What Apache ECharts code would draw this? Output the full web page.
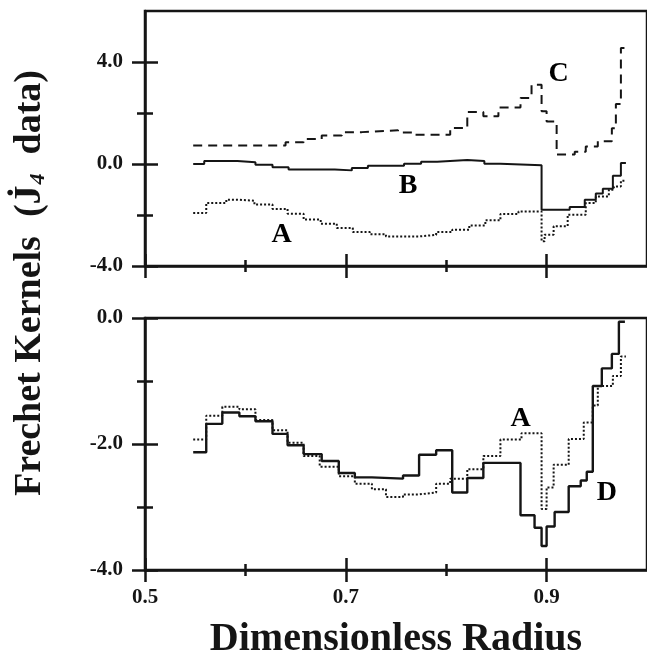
<!DOCTYPE html>
<html><head><meta charset="utf-8">
<script src="https://cdn.jsdelivr.net/npm/echarts@6/dist/echarts.min.js"></script>
<style>html,body{margin:0;padding:0;background:#fff}#c{width:647px;height:661px}</style>
</head><body><div id="c"></div>
<script>
// ---- tick / label values ----
const xTicksMajor = [0.5, 0.7, 0.9];
const xTicksMinor = [0.6, 0.8];
const xLabelValues = [0.5, 0.7, 0.9];
const topYMajor = [-4, 0, 4];
const topYMinor = [-2, 2];
const botYMajor = [-4, -2, 0];
const botYMinor = [-3, -1];

// ---- data: [radius at step start, kernel value]; last point closes the final step ----
const topA = [
  [0.548,-1.92],[0.561,-1.53],[0.581,-1.40],[0.592,-1.44],[0.609,-1.59],[0.627,-1.76],
  [0.642,-1.95],[0.658,-2.18],[0.675,-2.34],[0.691,-2.51],[0.707,-2.67],[0.724,-2.75],
  [0.740,-2.84],[0.773,-2.78],[0.790,-2.67],[0.806,-2.58],[0.823,-2.41],[0.839,-2.21],
  [0.854,-1.96],[0.872,-1.86],[0.895,-3.03],[0.898,-2.77],[0.907,-2.44],[0.921,-1.99],
  [0.939,-1.53],[0.949,-1.27],[0.962,-1.01],[0.967,-0.88],[0.974,-0.66],[0.979,-0.66]
];
const topB = [
  [0.548,0.00],[0.559,0.12],[0.592,0.07],[0.610,-0.03],[0.627,-0.13],[0.643,-0.22],
  [0.689,-0.25],[0.706,-0.16],[0.722,-0.07],[0.758,0.01],[0.775,0.09],[0.791,0.16],
  [0.821,0.12],[0.838,0.01],[0.854,-0.05],[0.895,-1.79],[0.923,-1.69],[0.938,-1.40],
  [0.949,-1.16],[0.956,-0.97],[0.966,-0.46],[0.974,0.04],[0.979,0.04]
];
const topC = [
  [0.548,0.73],[0.640,0.85],[0.658,0.98],[0.676,1.12],[0.696,1.25],[0.716,1.32],
  [0.752,1.24],[0.768,1.15],[0.804,1.41],[0.821,2.04],[0.837,1.87],[0.852,2.22],
  [0.874,2.59],[0.885,3.11],[0.895,2.07],[0.900,1.67],[0.910,0.37],[0.928,0.48],
  [0.939,0.69],[0.951,0.89],[0.965,1.40],[0.969,2.35],[0.974,4.55],[0.979,4.55]
];
const botA = [
  [0.548,-1.93],[0.561,-1.55],[0.577,-1.41],[0.594,-1.45],[0.610,-1.62],[0.627,-1.78],
  [0.642,-1.98],[0.658,-2.19],[0.674,-2.36],[0.693,-2.51],[0.709,-2.63],[0.726,-2.72],
  [0.740,-2.84],[0.757,-2.80],[0.773,-2.77],[0.790,-2.63],[0.804,-2.55],[0.821,-2.40],
  [0.837,-2.19],[0.854,-1.93],[0.875,-1.83],[0.895,-3.03],[0.900,-2.69],[0.907,-2.33],
  [0.922,-1.92],[0.937,-1.66],[0.946,-1.39],[0.951,-1.08],[0.966,-0.92],[0.974,-0.61],[0.979,-0.61]
];
const botD = [
  [0.548,-2.13],[0.561,-1.68],[0.577,-1.50],[0.594,-1.56],[0.610,-1.64],[0.627,-1.84],
  [0.642,-2.02],[0.658,-2.16],[0.676,-2.27],[0.693,-2.46],[0.709,-2.53],[0.726,-2.55],
  [0.757,-2.50],[0.773,-2.17],[0.790,-2.10],[0.806,-2.77],[0.821,-2.54],[0.837,-2.30],
  [0.874,-3.13],[0.888,-3.33],[0.895,-3.62],[0.900,-3.31],[0.908,-3.08],[0.922,-2.67],
  [0.934,-2.58],[0.940,-2.44],[0.946,-1.08],[0.955,-0.80],[0.965,-0.57],[0.972,-0.06],[0.978,-0.06]
];
const topNotes = [ {text:'C', x:0.912, y:3.55}, {text:'B', x:0.762, y:-0.85}, {text:'A', x:0.636, y:-2.78} ];
const botNotes = [ {text:'A', x:0.874, y:-1.60}, {text:'D', x:0.960, y:-2.78} ];

const INK = '#151515';
const SERIF = '"Liberation Serif","Times New Roman",serif';

function xAxes(gridIndex, withLabels) {
  const base = {type:'value', gridIndex, min:0.5, max:1.0, position:'bottom',
    splitLine:{show:false}, axisLabel:{show:false}, axisLine:{show:false, onZero:false}};
  const tick = (vals, inside, len) => ({show:true, inside, length:len, customValues:vals,
    lineStyle:{color:INK, width:2.5}});
  const main = Object.assign({}, base, {
    axisLine:{show:true, onZero:false, lineStyle:{color:INK, width:2.5}},
    axisTick: tick(xTicksMajor, true, 12),
    axisLabel: withLabels ? {show:true, customValues:xLabelValues, margin:17,
      formatter:v=>Number(v).toFixed(1), fontFamily:SERIF, fontWeight:'bold', fontSize:21, color:INK} : {show:false}
  });
  if (withLabels) {
    main.name = 'Dimensionless Radius';
    main.nameLocation = 'middle';
    main.nameGap = 50;
    main.nameTextStyle = {fontFamily:SERIF, fontWeight:'bold', fontSize:40, color:INK};
  }
  return [main,
    Object.assign({}, base, {axisTick: tick(xTicksMajor, false, 12)}),
    Object.assign({}, base, {axisTick: tick(xTicksMinor, true, 6)}),
    Object.assign({}, base, {axisTick: tick(xTicksMinor, false, 6)})];
}
function yAxes(gridIndex, min, max, major, minor) {
  const base = {type:'value', gridIndex, min, max, position:'left',
    splitLine:{show:false}, axisLabel:{show:false}, axisLine:{show:false, onZero:false}};
  const tick = (vals, inside, len) => ({show:true, inside, length:len, customValues:vals,
    lineStyle:{color:INK, width:2.5}});
  return [
    Object.assign({}, base, {
      axisLine:{show:true, onZero:false, lineStyle:{color:INK, width:2.5}},
      axisTick: tick(major, true, 13),
      axisLabel:{show:true, customValues:major, margin:22, formatter:v=>Number(v).toFixed(1),
        fontFamily:SERIF, fontWeight:'bold', fontSize:21, color:INK}
    }),
    Object.assign({}, base, {axisTick: tick(major, false, 13)}),
    Object.assign({}, base, {axisTick: tick(minor, true, 8)}),
    Object.assign({}, base, {axisTick: tick(minor, false, 8)})];
}
function stepLine(data, xi, yi, type, width) {
  return {type:'line', step:'end', data, xAxisIndex:xi, yAxisIndex:yi, symbol:'none',
    showSymbol:false, silent:true, lineStyle:{color:INK, width, type}};
}
function notes(list, xi, yi) {
  return {type:'scatter', xAxisIndex:xi, yAxisIndex:yi, symbolSize:1, silent:true,
    itemStyle:{color:'rgba(0,0,0,0)', opacity:1},
    data:list.map(d=>({name:d.text, value:[d.x, d.y]})),
    label:{show:true, position:'inside', formatter:'{b}', fontFamily:SERIF, fontWeight:'bold',
      fontSize:28, color:'#000', textBorderWidth:0, opacity:1}};
}

const chart = echarts.init(document.getElementById('c'), null, {renderer:'canvas'});
chart.setOption({
  animation:false,
  backgroundColor:'#fff',
  grid:[
    {left:145, right:-4, top:11, height:255, show:true, borderColor:INK, borderWidth:2.5, backgroundColor:'transparent'},
    {left:145, right:-4, top:318, height:253, show:true, borderColor:INK, borderWidth:2.5, backgroundColor:'transparent'}
  ],
  xAxis: xAxes(0, false).concat(xAxes(1, true)),
  yAxis: yAxes(0, -4, 6, topYMajor, topYMinor).concat(yAxes(1, -4, 0, botYMajor, botYMinor)),
  series:[
    stepLine(topA, 0, 0, [2,2], 2),
    stepLine(topB, 0, 0, 'solid', 2),
    stepLine(topC, 0, 0, [9,6], 2),
    stepLine(botA, 4, 4, [2,2], 2),
    stepLine(botD, 4, 4, 'solid', 2.4),
    notes(topNotes, 0, 0),
    notes(botNotes, 4, 4)
  ],
  graphic:[{
    type:'text', x:30, y:283, rotation:Math.PI/2, silent:true,
    style:{
      text:'{a|Frechet Kernels  (}{j|J\u0307}{s|4}{a|  data)}',
      align:'center', verticalAlign:'middle',
      rich:{
        a:{fontFamily:SERIF, fontWeight:'bold', fontSize:38, fill:INK},
        j:{fontFamily:SERIF, fontWeight:'bold', fontSize:38, fill:INK},
        s:{fontFamily:SERIF, fontWeight:'bold', fontStyle:'italic', fontSize:22, fill:INK, verticalAlign:'bottom', padding:[0,0,0,1]}
      }
    }
  }]
});
</script></body></html>
